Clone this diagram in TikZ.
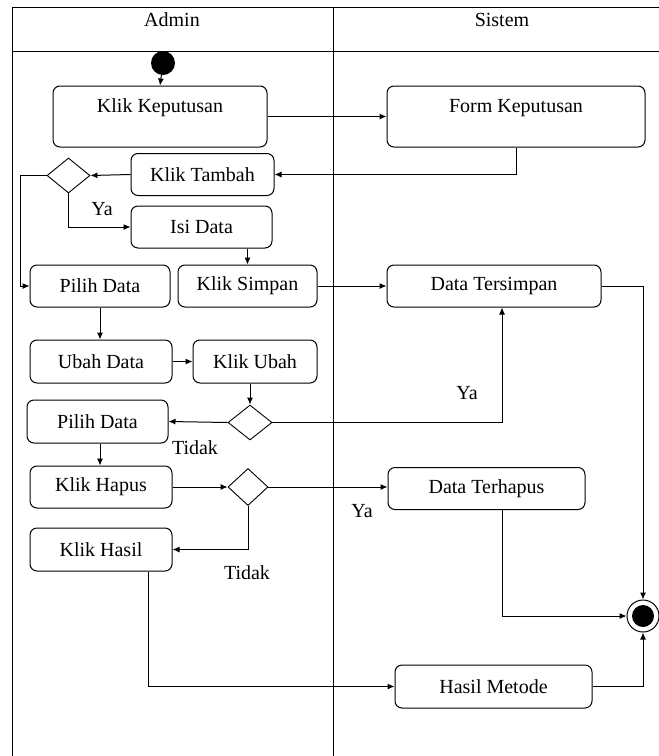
\documentclass[tikz,border=0pt]{standalone}
\usepackage{fontspec}
\setmainfont{Liberation Serif}
\usetikzlibrary{positioning,shapes.geometric,arrows.meta}

\begin{document}
\begin{tikzpicture}[
        x=1pt, y=-1pt,
        font=\fontsize{20}{22}\selectfont,
        act/.style={draw, line width=1pt, rounded corners=7pt, align=center,
            minimum height=42pt, inner sep=0pt},
        decision/.style={draw, line width=0.9pt, diamond, inner sep=0pt,
            minimum width=43pt, minimum height=35pt},
        arr/.style={-{Latex[length=7pt,width=6pt]}, line width=1pt},
        lane/.style={line width=1pt},
    ]
        \useasboundingbox (0,0) rectangle (659,756);

        % Swimlanes
        \draw[lane] (12,756) -- (12,7) -- (659,7);
        \draw[lane] (12,51) -- (659,51);
        \draw[lane] (333,7) -- (333,756);
        \node (admin) at (172,20) {Admin};
        \node (sistem) at (502,20) {Sistem};

        % Admin lane
        \node[circle, fill, minimum size=24pt, inner sep=0pt] (start) at (163,63) {};
        \node[act, minimum width=214pt, minimum height=61pt] (klikkep) at (160,116.5) {Klik Keputusan\\ ~};
        \node[act, minimum width=143pt] (tambah) at (202.5,174.5) {Klik Tambah};
        \node[decision] (dec1) at (68.5,175.5) {};
        \node[act, minimum width=141pt] (isidata) at (201.5,227) {Isi Data};
        \node[act, minimum width=140pt] (pilih1) at (100,286) {Pilih Data};
        \node[act, minimum width=139pt] (simpan) at (247.5,286) {Klik Simpan};
        \node[act, minimum width=142pt, minimum height=43pt] (ubah) at (101,361.5) {Ubah Data};
        \node[act, minimum width=124pt, minimum height=43pt] (klikubah) at (255,361.5) {Klik Ubah};
        \node[decision, minimum width=44pt] (dec2) at (250,422.5) {};
        \node[act, minimum width=141pt, minimum height=43pt] (pilih2) at (97.5,421.5) {Pilih Data};
        \node[act, minimum width=142pt] (hapus) at (101,487) {Klik Hapus};
        \node[decision, minimum width=40pt, minimum height=37pt] (dec3) at (248,487) {};
        \node[act, minimum width=142pt, minimum height=43pt] (hasil) at (101,549.5) {Klik Hasil};

        % Sistem lane
        \node[act, minimum width=258pt, minimum height=61pt] (formkep) at (516,116.5) {Form Keputusan\\ ~};
        \node[act, minimum width=214pt] (tersimpan) at (494,286) {Data Tersimpan};
        \node[act, minimum width=197pt] (terhapus) at (486.5,488.5) {Data Terhapus};
        \node[act, minimum width=197pt, minimum height=43pt] (metode) at (493.5,686.5) {Hasil Metode};
        \node[circle, draw, line width=1pt, minimum size=32pt, inner sep=0pt] (end) at (643,616) {};
        \node[circle, fill, minimum size=22pt, inner sep=0pt] (endin) at (end) {};

        % Flow
        \coordinate (back) at (20,175.5);
        \draw[arr] (start) -- (klikkep.north);
        \draw[arr] (klikkep.east) -- (formkep.west);
        \draw[arr] (formkep.south) |- (tambah.east);
        \draw[arr] (tambah.west) -- (dec1.east);
        \draw[arr] (dec1.west) -- (back) |- (pilih1.west);
        \draw[arr] (dec1.south) |- (isidata.west);
        \node (ya1) at (102,209) {Ya};
        \draw[arr] (simpan.north |- isidata.south) -- (simpan.north);
        \draw[arr] (simpan.east) -- (tersimpan.west);
        \draw[arr] (tersimpan.east) -| (end.north);
        \draw[arr] (pilih1.south) -- (pilih1.south |- ubah.north);
        \draw[arr] (ubah.east) -- (klikubah.west);
        \draw[arr] (dec2.north |- klikubah.south) -- (dec2.north);
        \draw[arr] (dec2.west) -- (pilih2.east);
        \node (tidak1) at (195,448) {Tidak};
        \draw[arr] (dec2.east) -| ([xshift=8pt]tersimpan.south);
        \node (ya2) at (467,393) {Ya};
        \draw[arr] (pilih2.south -| pilih1.south) -- (pilih1.south |- hapus.north);
        \draw[arr] (hapus.east) -- (dec3.west);
        \draw[arr] (dec3.east) -- (terhapus.west |- dec3.east);
        \node (ya3) at (362,511) {Ya};
        \draw[arr] (dec3.south) |- (hasil.east);
        \node (tidak2) at (247,573) {Tidak};
        \draw[arr] ([xshift=15.5pt]terhapus.south) |- (end.west);
        \draw[arr] ([xshift=47pt]hasil.south) |- (metode.west);
        \draw[arr] (metode.east) -| (end.south);
    \end{tikzpicture}
\end{document}
